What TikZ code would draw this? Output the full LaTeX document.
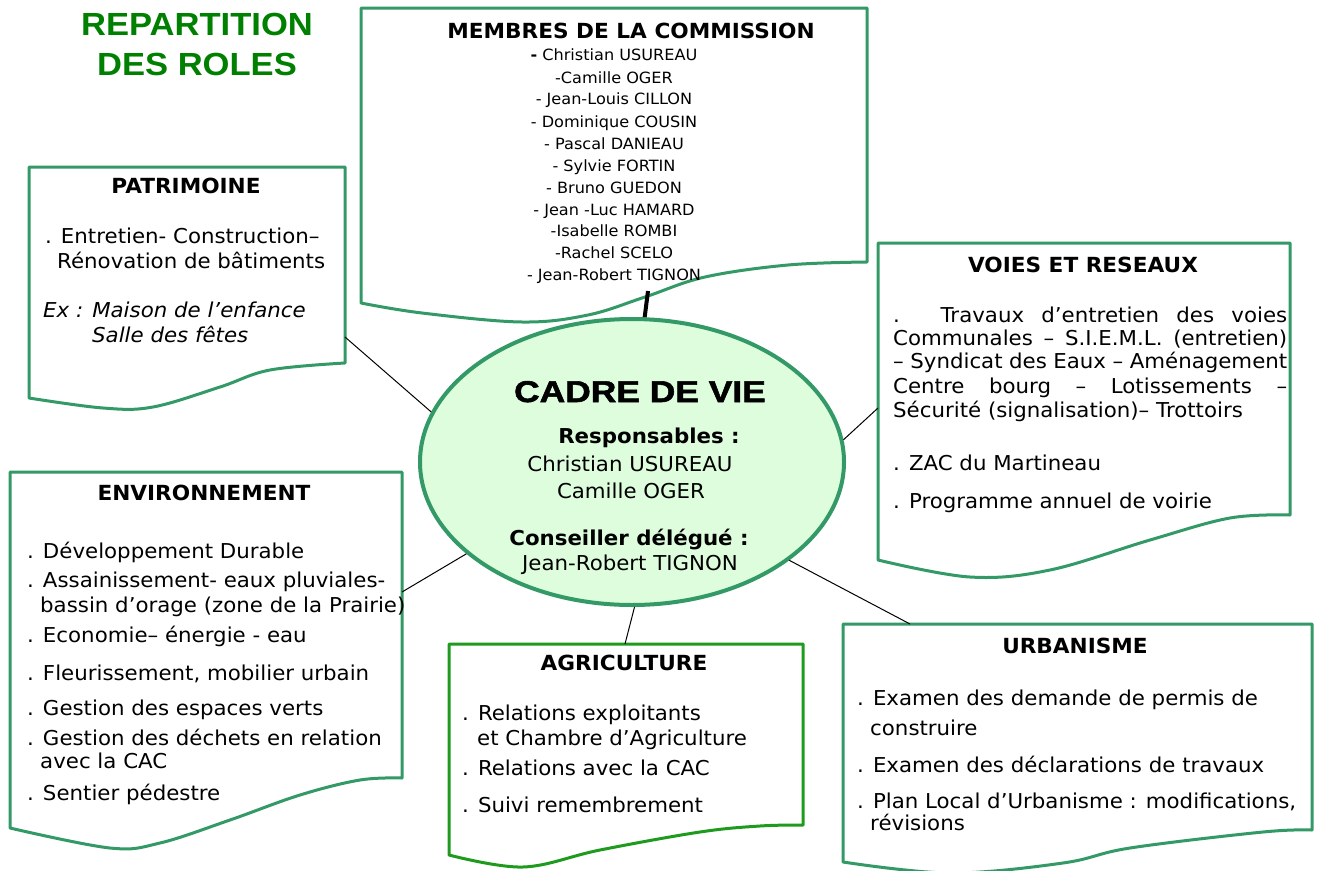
\documentclass[tikz,border=0pt]{standalone}
\usepackage{fontspec}
\setmainfont{DejaVu Sans}[FakeStretch=1.04]
\newfontfamily\arialfont{Liberation Sans}[FakeStretch=1.08]
\newfontfamily\blackfont[FakeStretch=1.18,BoldFeatures={FakeBold=1.8}]{Liberation Sans}
\usetikzlibrary{shapes.geometric}
\definecolor{boxgreen}{RGB}{51,153,102}
\definecolor{agrgreen}{RGB}{30,155,30}
\definecolor{titlegreen}{RGB}{0,128,0}
\definecolor{ellfill}{RGB}{221,253,221}
\tikzset{
  docbox/.style={draw=boxgreen, line width=3pt, fill=white, line join=round},
  txt/.style={inner sep=0pt, anchor=base west, font=\fontsize{20.5}{24}\selectfont},
  ctxt/.style={inner sep=0pt, anchor=base, font=\fontsize{20.5}{24}\selectfont},
  hd/.style={inner sep=0pt, anchor=base, font=\fontsize{20.8}{24}\selectfont\bfseries},
  mem/.style={inner sep=0pt, anchor=base, font=\fontsize{15.5}{18}\selectfont},
  ttl/.style={inner sep=0pt, anchor=base, text=titlegreen, font=\arialfont\fontsize{32}{36}\selectfont\bfseries},
  conn/.style={draw=black, line width=1pt},
}
\begin{document}
\begin{tikzpicture}[x=1pt,y=-1pt]
\useasboundingbox (0,0) rectangle (1317,870);

% ---------- boxes ----------
\draw[docbox] (867,262) -- (867,8) -- (361,8) -- (361,303)
  -- plot[smooth,tension=0.6] coordinates {(361,303) (422,313) (522,322) (588,315) (645,297) (705,277) (788,265) (867,262)} -- cycle;
\draw[docbox] (345,363) -- (345,167) -- (29,167) -- (29,398)
  -- plot[smooth,tension=0.6] coordinates {(29,398) (103,408) (153,407) (220,387) (270,370) (345,363)} -- cycle;
\draw[docbox] (1290,515) -- (1290,243) -- (878,243) -- (878,560)
  -- plot[smooth,tension=0.6] coordinates {(878,560) (970,577) (1050,570) (1150,540) (1230,518) (1290,515)} -- cycle;
\draw[docbox] (402,778) -- (402,472) -- (10,472) -- (10,828)
  -- plot[smooth,tension=0.6] coordinates {(10,828) (110,848) (160,843) (230,820) (300,795) (360,780) (402,778)} -- cycle;
\draw[docbox, draw=agrgreen] (803,825) -- (803,644) -- (449,644) -- (449,855)
  -- plot[smooth,tension=0.6] coordinates {(449,855) (523,867) (600,850) (700,832) (760,826) (803,825)} -- cycle;
\draw[docbox] (1312,830) -- (1312,624) -- (843,624) -- (843,862)
  -- plot[smooth,tension=0.6] coordinates {(843,862) (950,873) (1063,863) (1130,848) (1263,832) (1312,830)} -- cycle;

% ---------- central ellipse ----------
\node[ellipse, draw=boxgreen, line width=4pt, fill=ellfill, inner sep=0pt,
      minimum width=424pt, minimum height=286pt] (cadre) at (632,462) {};

% ---------- connector end points on the boxes ----------
\coordinate (memC) at (648,291);
\coordinate (patC) at (345,337);
\coordinate (voiC) at (878,408);
\coordinate (envC) at (402,592);
\coordinate (agrC) at (625,644);
\coordinate (urbC) at (910,624);

\draw[conn, line width=4pt] (memC) -- (cadre.85.5);
\draw[conn] (patC) -- (cadre.166.4);
\draw[conn] (voiC) -- (cadre.6);
\draw[conn] (envC) -- (cadre.209.4);
\draw[conn] (agrC) -- (cadre.271);
\draw[conn] (urbC) -- (cadre.328.2);

% ---------- title ----------
\node[ttl] (t1) at (197,35) {REPARTITION};
\node[ttl] (t2) at (197,75) {DES ROLES};

% ---------- members ----------
\node[hd] (memH) at (631,38) {MEMBRES DE LA COMMISSION};
\foreach \nm/\yy [count=\i] in {{\textbf{-} Christian USUREAU}/60, {-Camille OGER}/83, {- Jean-Louis CILLON}/104, {- Dominique COUSIN}/127, {- Pascal DANIEAU}/149, {- Sylvie FORTIN}/171, {- Bruno GUEDON}/193, {- Jean -Luc HAMARD}/215, {-Isabelle ROMBI}/236, {-Rachel SCELO}/258, {- Jean-Robert TIGNON}/280}
  \node[mem] (m\i) at (614,\yy) {\nm};

% ---------- patrimoine ----------
\node[hd] (patH) at (186,193) {PATRIMOINE};
\node[txt] (p1) at (45,243) {. Entretien- Construction–};
\node[txt] (p2) at (57,268) {Rénovation de bâtiments};
\node[txt, font=\fontsize{20.5}{24}\selectfont\itshape] (p3) at (43,317) {Ex : Maison de l’enfance};
\node[txt, font=\fontsize{20.5}{24}\selectfont\itshape] (p4) at (92,342) {Salle des fêtes};

% ---------- voies et reseaux ----------
\node[hd] (voiH) at (1083,272) {VOIES ET RESEAUX};
\node[txt] (v1) at (893,322) {\makebox[394pt][s]{. Travaux d’entretien des voies}};
\node[txt] (v2) at (893,345) {\makebox[394pt][s]{Communales – S.I.E.M.L. (entretien)}};
\node[txt] (v3) at (893,368) {\makebox[394pt][s]{– Syndicat des Eaux – Aménagement}};
\node[txt] (v4) at (893,393) {\makebox[394pt][s]{Centre bourg – Lotissements –}};
\node[txt] (v5) at (893,417) {Sécurité (signalisation)– Trottoirs};
\node[txt] (v6) at (893,470) {. ZAC du Martineau};
\node[txt] (v7) at (893,508) {. Programme annuel de voirie};

% ---------- environnement ----------
\node[hd] (envH) at (204,500) {ENVIRONNEMENT};
\node[txt] (e1) at (27,558) {. Développement Durable};
\node[txt] (e2) at (27,587) {. Assainissement- eaux pluviales-};
\node[txt] (e3) at (40,612) {bassin d’orage (zone de la Prairie)};
\node[txt] (e4) at (27,642) {. Economie– énergie - eau};
\node[txt] (e5) at (27,680) {. Fleurissement, mobilier urbain};
\node[txt] (e6) at (27,715) {. Gestion des espaces verts};
\node[txt] (e7) at (27,745) {. Gestion des déchets en relation};
\node[txt] (e8) at (40,768) {avec la CAC};
\node[txt] (e9) at (27,800) {. Sentier pédestre};

% ---------- agriculture ----------
\node[hd] (agrH) at (624,670) {AGRICULTURE};
\node[txt] (a1) at (462,720) {. Relations exploitants};
\node[txt] (a2) at (477,745) {et Chambre d’Agriculture};
\node[txt] (a3) at (462,775) {. Relations avec la CAC};
\node[txt] (a4) at (462,812) {. Suivi remembrement};

% ---------- urbanisme ----------
\node[hd] (urbH) at (1075,653) {URBANISME};
\node[txt] (u1) at (857,705) {. Examen des demande de permis de};
\node[txt] (u2) at (870,735) {construire};
\node[txt] (u3) at (857,772) {. Examen des déclarations de travaux};
\node[txt] (u4) at (857,808) {. Plan Local d’Urbanisme : modifications,};
\node[txt] (u5) at (870,830) {révisions};

% ---------- ellipse text ----------
\node[inner sep=0pt, anchor=base, font=\blackfont\fontsize{30}{34}\selectfont\bfseries] (c1) at (640,402) {CADRE DE VIE};
\node[ctxt, font=\fontsize{20.5}{24}\selectfont\bfseries] (c2) at (649,443) {Responsables :};
\node[ctxt] (c3) at (630,471) {Christian USUREAU};
\node[ctxt] (c4) at (631,498) {Camille OGER};
\node[ctxt, font=\fontsize{20.5}{24}\selectfont\bfseries] (c5) at (629,545) {Conseiller délégué :};
\node[ctxt] (c6) at (630,570) {Jean-Robert TIGNON};
\end{tikzpicture}
\end{document}
